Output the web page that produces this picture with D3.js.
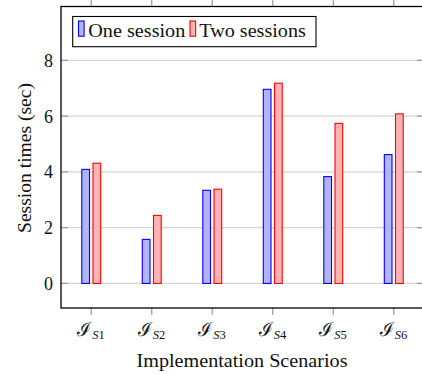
<!DOCTYPE html>
<html><head><meta charset="utf-8">
<script src="https://cdn.jsdelivr.net/npm/d3@7"></script>
<style>body{margin:0;background:#fff}svg{display:block}text{font-family:"Liberation Serif","DejaVu Serif",serif;fill:#111}</style>
</head><body>
<script>
const categories = ["S1","S2","S3","S4","S5","S6"];
const oneSession = [4.09, 1.58, 3.34, 6.96, 3.83, 4.62];
const twoSessions = [4.31, 2.44, 3.38, 7.18, 5.74, 6.08];
const yTicks = [0, 2, 4, 6, 8];
const seriesNames = ["One session", "Two sessions"];

(function(){
const W = 422, H = 374;
const svg = d3.select("body").append("svg").attr("width", W).attr("height", H);
const pL = 61, pR = 424, pT = 6.5, pB = 308;
const x = d3.scalePoint().domain(categories).range([pL, pR]).padding(0.5);
const y = d3.scaleLinear().domain([-0.88, 9.93]).range([pB, pT]);

// grid
svg.append("g").selectAll("line").data(yTicks).join("line")
  .attr("x1", pL).attr("x2", pR).attr("y1", d => y(d)).attr("y2", d => y(d))
  .attr("stroke", "#d4d4d4").attr("stroke-width", 1.2);
// y ticks inside (left and right)
const yt = svg.append("g");
yt.selectAll("line.l").data(yTicks).join("line").attr("class","l")
  .attr("x1", pL).attr("x2", pL + 7).attr("y1", d => y(d)).attr("y2", d => y(d))
  .attr("stroke", "#999").attr("stroke-width", 1.2);
yt.selectAll("line.r").data(yTicks).join("line").attr("class","r")
  .attr("x1", pR - 7).attr("x2", pR).attr("y1", d => y(d)).attr("y2", d => y(d))
  .attr("stroke", "#999").attr("stroke-width", 1.2);
// x ticks outside (top and bottom)
const xt = svg.append("g");
xt.selectAll("line.b").data(categories).join("line").attr("class","b")
  .attr("x1", d => x(d)).attr("x2", d => x(d)).attr("y1", pB).attr("y2", pB + 7)
  .attr("stroke", "#999").attr("stroke-width", 1.2);
xt.selectAll("line.t").data(categories).join("line").attr("class","t")
  .attr("x1", d => x(d)).attr("x2", d => x(d)).attr("y1", pT).attr("y2", pT - 7)
  .attr("stroke", "#999").attr("stroke-width", 1.2);

// bars
const bw = 7.7, off = 5.6;
const bars = svg.append("g");
bars.selectAll("rect.one").data(oneSession).join("rect").attr("class","one")
  .attr("x", (d,i) => x(categories[i]) - off - bw/2).attr("width", bw)
  .attr("y", d => y(d)).attr("height", d => y(0) - y(d))
  .attr("fill", "#b3b3ff").attr("stroke", "#0000ff").attr("stroke-width", 1.1);
bars.selectAll("rect.two").data(twoSessions).join("rect").attr("class","two")
  .attr("x", (d,i) => x(categories[i]) + off - bw/2).attr("width", bw)
  .attr("y", d => y(d)).attr("height", d => y(0) - y(d))
  .attr("fill", "#ffb3b3").attr("stroke", "#ff0000").attr("stroke-width", 1.1);

// frame
svg.append("rect").attr("x", pL).attr("y", pT).attr("width", pR - pL).attr("height", pB - pT)
  .attr("fill", "none").attr("stroke", "#000").attr("stroke-width", 1.3);

// y tick labels
svg.append("g").selectAll("text").data(yTicks).join("text")
  .attr("x", 53).attr("y", d => y(d) + 6.5).attr("text-anchor", "end")
  .attr("font-size", 18).text(d => d);

// x tick labels
const xl = svg.append("g").selectAll("text").data(categories).join("text")
  .attr("x", d => x(d) - 14).attr("y", 336).attr("font-size", 18);
xl.append("tspan").attr("font-family", "DejaVu Serif").attr("font-size", 19).text("ℐ");
xl.append("tspan").attr("dx", 1).attr("dy", 3).attr("font-size", 12.5).attr("font-style", "italic").text(d => d[0]);
xl.append("tspan").attr("font-size", 12.5).text(d => d.slice(1));

// axis titles
svg.append("text").attr("x", 136.5).attr("y", 366.5).attr("font-size", 18)
  .attr("textLength", 211).attr("lengthAdjust", "spacingAndGlyphs").text("Implementation Scenarios");
svg.append("text").attr("transform", "translate(30.5,233) rotate(-90)").attr("font-size", 18)
  .attr("textLength", 150).attr("lengthAdjust", "spacingAndGlyphs").text("Session times (sec)");

// legend
const lg = svg.append("g");
lg.append("rect").attr("x", 72.7).attr("y", 16.5).attr("width", 243.3).attr("height", 30.2)
  .attr("fill", "#fff").attr("stroke", "#000").attr("stroke-width", 1.1);
const lx = [78.5, 190];
const tx = [88.3, 199.3];
const tl = [97, 106.5];
const fills = ["#b3b3ff", "#ffb3b3"], strokes = ["#0000ff", "#ff0000"];
seriesNames.forEach((n, i) => {
  lg.append("rect").attr("x", lx[i]).attr("y", 21).attr("width", 5.6).attr("height", 15.2)
    .attr("fill", fills[i]).attr("stroke", strokes[i]).attr("stroke-width", 1.1);
  lg.append("text").attr("x", tx[i]).attr("y", 36.7).attr("font-size", 18)
    .attr("textLength", tl[i]).attr("lengthAdjust", "spacingAndGlyphs").text(n);
});
})();
</script>
</body></html>
